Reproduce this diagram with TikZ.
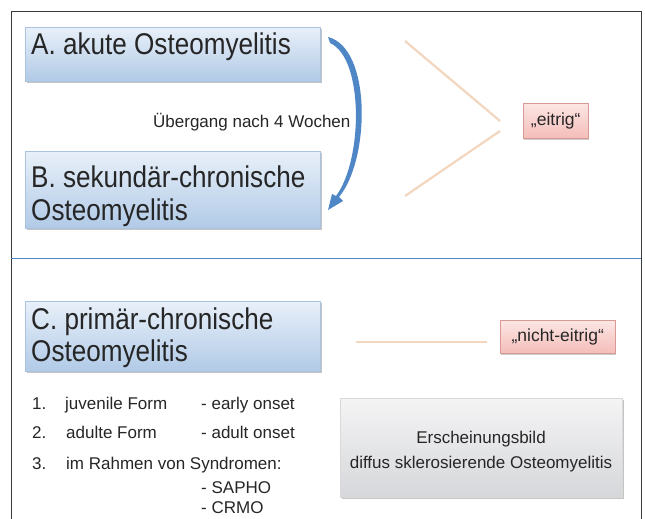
\documentclass[tikz,border=0pt]{standalone}
\usepackage{fontspec}
\setmainfont{Liberation Sans}
\newfontfamily\titlefont[FakeStretch=0.87]{Liberation Sans}
\usetikzlibrary{shadows}
\definecolor{frameC}{HTML}{3A3A3A}
\definecolor{divC}{HTML}{4F86C6}
\definecolor{blueTop}{HTML}{E8F0F9}
\definecolor{blueBot}{HTML}{B1CAE7}
\definecolor{blueEdge}{HTML}{A9C2DE}
\definecolor{pinkTop}{HTML}{FCE6E4}
\definecolor{pinkBot}{HTML}{F4BDB9}
\definecolor{pinkEdge}{HTML}{D99A95}
\definecolor{grayTop}{HTML}{F4F4F5}
\definecolor{grayBot}{HTML}{D6D7DA}
\definecolor{tanC}{HTML}{F2D6BE}
\definecolor{arrC}{HTML}{4F86C6}
\definecolor{txtC}{HTML}{262626}
\tikzset{
  bluebox/.style={draw=blueEdge, line width=0.6pt, top color=blueTop, bottom color=blueBot,
    drop shadow={shadow xshift=1.5pt, shadow yshift=-2pt, fill=black!45, opacity=0.5},
    anchor=north west, inner sep=0pt},
  pinkbox/.style={draw=pinkEdge, line width=0.5pt, top color=pinkTop, bottom color=pinkBot,
    drop shadow={shadow xshift=1pt, shadow yshift=-1.5pt, fill=black!40, opacity=0.5},
    anchor=north west, inner sep=0pt},
  graybox/.style={draw=black!15, line width=0.5pt, top color=grayTop, bottom color=grayBot,
    drop shadow={shadow xshift=1.5pt, shadow yshift=-2pt, fill=black!45, opacity=0.5},
    anchor=north west, inner sep=0pt},
  titletxt/.style={font=\titlefont\fontsize{30}{33}\selectfont, text=txtC, inner sep=0pt, anchor=base west},
  pinktxt/.style={font=\fontsize{17.5}{20}\selectfont, text=txtC, inner sep=0pt},
  tanline/.style={draw=tanC, line width=2.2pt},
  small/.style={font=\fontsize{17}{20}\selectfont, text=txtC, inner sep=0pt, anchor=base west},
  listtxt/.style={font=\fontsize{17}{20}\selectfont, text=txtC, inner sep=0pt, anchor=base west},
  graytxt/.style={font=\fontsize{17}{20}\selectfont, text=txtC, inner sep=0pt, anchor=base},
}
\begin{document}
\begin{tikzpicture}[x=1pt,y=-1pt]
\useasboundingbox (0,0) rectangle (645,519);
\fill[white] (0,0) rectangle (645,519);
% outer frame
\draw[frameC, line width=0.9pt] (11,519) -- (11,11) -- (641,11) -- (641,519);
% divider
\draw[divC, line width=1.8pt] (11,258.5) -- (641,258.5);

% blue boxes
\node[bluebox, minimum width=295pt, minimum height=54pt] (A) at (25,27) {};
\node[titletxt] (At) at (31,55) {A. akute Osteomyelitis};
\node[bluebox, minimum width=295pt, minimum height=77pt] (B) at (25,151) {};
\node[titletxt] (Bt1) at (31,187) {B. sekundär-chronische};
\node[titletxt] (Bt2) at (31,220) {Osteomyelitis};
\node[bluebox, minimum width=295pt, minimum height=70pt] (C) at (25,301) {};
\node[titletxt] (Ct1) at (31,329) {C. primär-chronische};
\node[titletxt] (Ct2) at (31,361) {Osteomyelitis};

% pink boxes
\node[pinkbox, minimum width=65pt, minimum height=35pt] (E) at (523,103) {};
\node[pinktxt] (Et) at (E.center) {„eitrig“};
\node[pinkbox, minimum width=115pt, minimum height=33pt] (N) at (500,320) {};
\node[pinktxt] (Nt) at (N.center) {„nicht-eitrig“};

% gray box
\node[graybox, minimum width=282pt, minimum height=99pt] (G) at (340,398) {};
\node[graytxt] (Gt1) at (481,443) {Erscheinungsbild};
\node[graytxt] (Gt2) at (481,468) {diffus sklerosierende Osteomyelitis};

% transition arrow (A -> B)
\coordinate (a1) at (328,37);
\coordinate (a2) at (328,210);
\fill[arrC] (a1) .. controls (372,48) and (370,160) .. (339,197)
  -- (343,201) -- (a2) -- (332,194) -- (336,196)
  .. controls (363,160) and (364,58) .. (330,43) -- cycle;
\node[small] (U) at (153,127) {Übergang nach 4 Wochen};

% tan lines
\coordinate (t1) at (405,41);
\coordinate (t2) at (500,121);
\coordinate (t3) at (500,131);
\coordinate (t4) at (405,196);
\draw[tanline] (t1) -- (t2);
\draw[tanline] (t3) -- (t4);
\coordinate (t5) at (356,342);
\coordinate (t6) at (487,342);
\draw[tanline] (t5) -- (t6);

% list
\node[listtxt] (l1n) at (32,409) {1.};
\node[listtxt] (l1a) at (65,409) {juvenile Form};
\node[listtxt] (l1b) at (201,409) {- early onset};
\node[listtxt] (l2n) at (32,438) {2.};
\node[listtxt] (l2a) at (66,438) {adulte Form};
\node[listtxt] (l2b) at (201,438) {- adult onset};
\node[listtxt] (l3n) at (32,469) {3.};
\node[listtxt] (l3a) at (66,469) {im Rahmen von Syndromen:};
\node[listtxt] (l4) at (201,493) {- SAPHO};
\node[listtxt] (l5) at (201,513) {- CRMO};
\end{tikzpicture}
\end{document}
